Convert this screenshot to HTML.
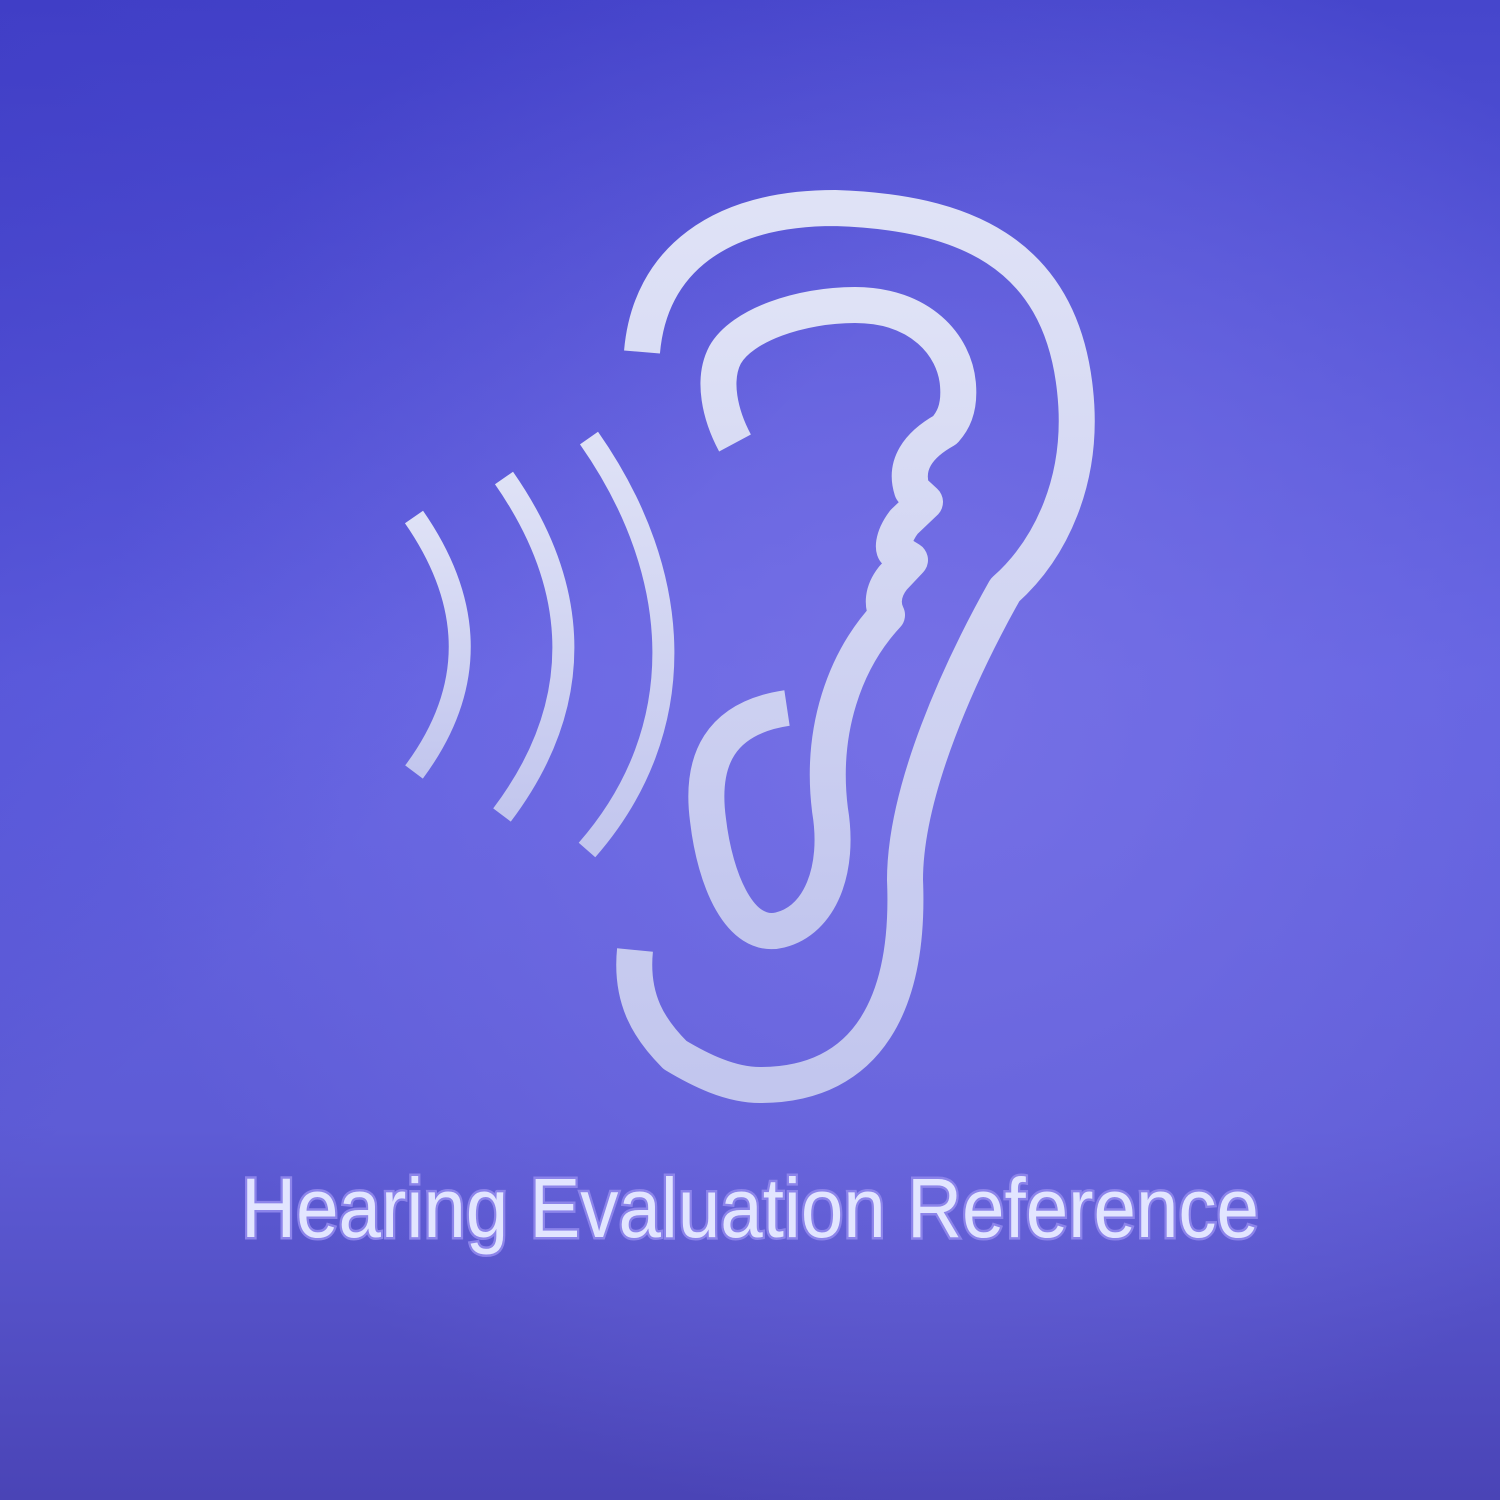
<!DOCTYPE html>
<html>
<head>
<meta charset="utf-8">
<style>
html,body{margin:0;padding:0;width:1500px;height:1500px;overflow:hidden;}
svg{display:block;}
</style>
</head>
<body>
<svg width="1500" height="1500" viewBox="0 0 1500 1500" xmlns="http://www.w3.org/2000/svg">
  <defs>
    <linearGradient id="bg" x1="0" y1="0" x2="0" y2="1">
      <stop offset="0" stop-color="#4646cc"/>
      <stop offset="0.45" stop-color="#6262e2"/>
      <stop offset="0.75" stop-color="#5e5cd6"/>
      <stop offset="1" stop-color="#4a44b6"/>
    </linearGradient>
    <radialGradient id="glow" cx="0.62" cy="0.47" r="0.55">
      <stop offset="0" stop-color="#7872e6" stop-opacity="0.9"/>
      <stop offset="1" stop-color="#7872e6" stop-opacity="0"/>
    </radialGradient>
    <linearGradient id="dark" x1="0" y1="0" x2="1" y2="1">
      <stop offset="0" stop-color="#3a36c0" stop-opacity="0.5"/>
      <stop offset="0.4" stop-color="#3a36c0" stop-opacity="0"/>
    </linearGradient>
    <linearGradient id="strokeG" x1="0" y1="0" x2="0" y2="1">
      <stop offset="0" stop-color="#dfe2f6"/>
      <stop offset="1" stop-color="#c2c6ee"/>
    </linearGradient>
  </defs>
  <rect width="1500" height="1500" fill="url(#bg)"/>
  <rect width="1500" height="1500" fill="url(#glow)"/>
  <rect width="1500" height="1500" fill="url(#dark)"/>

  <g fill="none" stroke="url(#strokeG)" stroke-width="36" stroke-linejoin="round">
    <path
      d="M642,352 C650,260 720,208 835,208 C960,212 1060,250 1075,390 C1085,480 1050,550 1005,590 C960,670 905,790 905,880 C910,1000 870,1085 760,1085 C730,1085 700,1070 675,1055 C650,1030 630,1000 635,950"/>
    <path
      d="M735,443 C720,415 712,380 725,355 C742,325 800,305 855,305 C920,305 955,345 958,385 C960,410 952,422 945,430 C918,445 904,465 912,490 L925,502 L904,522 C892,538 892,552 897,552 L910,560 L893,578 C882,592 882,605 887,615 C845,660 820,730 830,810 C840,870 820,920 780,930 C740,940 715,880 708,820 C700,760 720,718 787,708"/>
  </g>

  <g fill="none" stroke="url(#strokeG)" stroke-width="22">
    <path d="M414,517 C475,605 475,690 414,772"/>
    <path d="M504,478 C582,590 585,705 502,815"/>
    <path d="M589,438 C685,575 692,730 587,850"/>
  </g>

  <text x="750" y="1237" text-anchor="middle" textLength="1018" lengthAdjust="spacingAndGlyphs"
    font-family="'Liberation Sans', 'DejaVu Sans', sans-serif" font-size="84"
    fill="#e2e5ff" stroke="#8c84ea" stroke-width="5" paint-order="stroke"
   >Hearing Evaluation Reference</text>
</svg>
</body>
</html>
